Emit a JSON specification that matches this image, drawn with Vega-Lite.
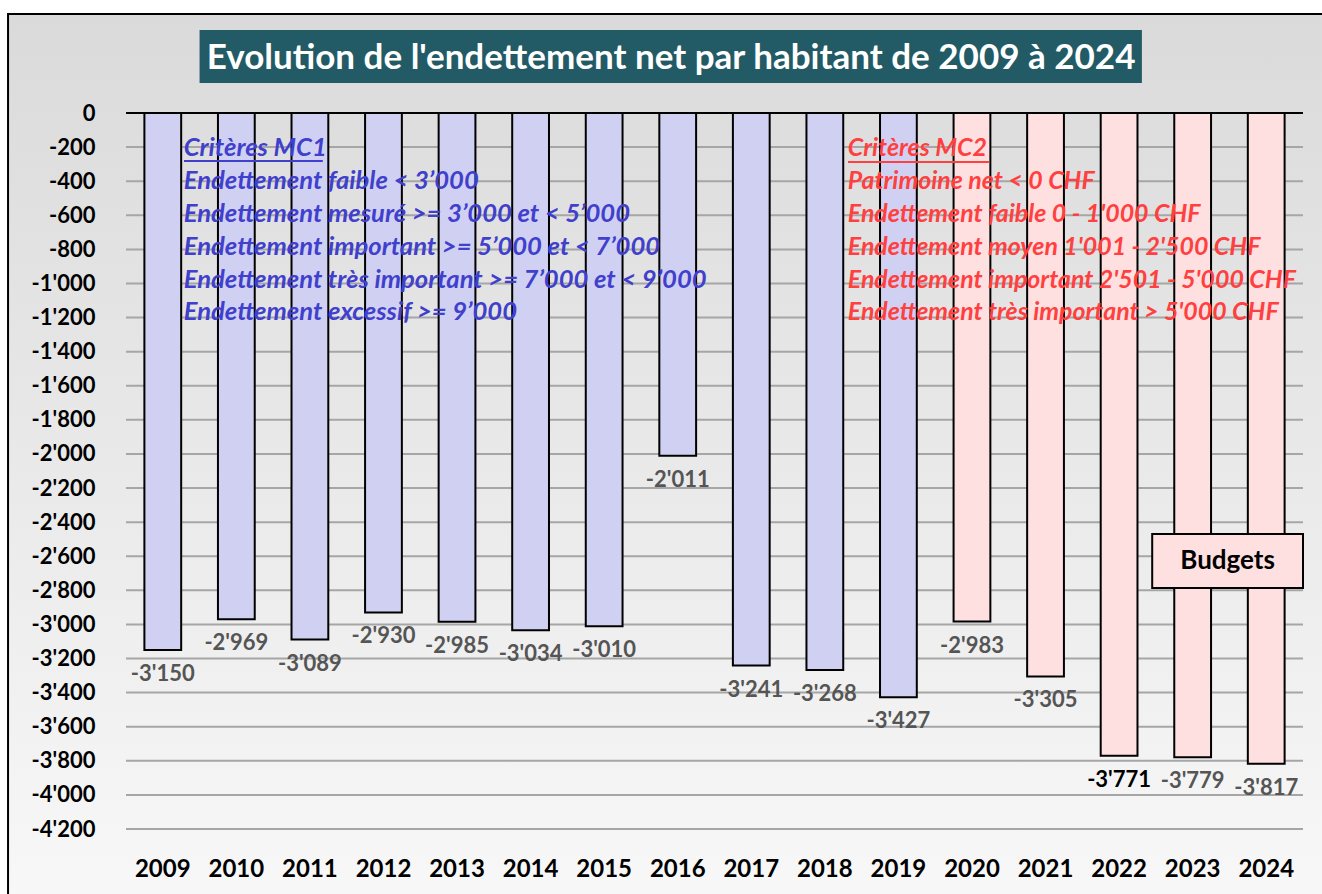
{
  "$schema": "https://vega.github.io/schema/vega-lite/v6.json",
  "width": 1177,
  "height": 716,
  "autosize": {"type": "none"},
  "padding": {"left": 126, "top": 113, "right": 19, "bottom": 65},
  "background": "#ffffff",
  "config": {
    "view": {"stroke": null},
    "font": "Lato",
    "locale": {"number": {"decimal": ".", "thousands": "'", "grouping": [3], "currency": ["", ""], "minus": "-"}}
  },
  "datasets": {
    "bars": [
      {"year": "2009", "value": -3150, "critere": "MC1"},
      {"year": "2010", "value": -2969, "critere": "MC1"},
      {"year": "2011", "value": -3089, "critere": "MC1"},
      {"year": "2012", "value": -2930, "critere": "MC1"},
      {"year": "2013", "value": -2985, "critere": "MC1"},
      {"year": "2014", "value": -3034, "critere": "MC1"},
      {"year": "2015", "value": -3010, "critere": "MC1"},
      {"year": "2016", "value": -2011, "critere": "MC1"},
      {"year": "2017", "value": -3241, "critere": "MC1"},
      {"year": "2018", "value": -3268, "critere": "MC1"},
      {"year": "2019", "value": -3427, "critere": "MC1"},
      {"year": "2020", "value": -2983, "critere": "MC2"},
      {"year": "2021", "value": -3305, "critere": "MC2"},
      {"year": "2022", "value": -3771, "critere": "MC2"},
      {"year": "2023", "value": -3779, "critere": "MC2"},
      {"year": "2024", "value": -3817, "critere": "MC2"}
    ],
    "grid": [
      {"v": -200}, {"v": -400}, {"v": -600}, {"v": -800}, {"v": -1000},
      {"v": -1200}, {"v": -1400}, {"v": -1600}, {"v": -1800}, {"v": -2000},
      {"v": -2200}, {"v": -2400}, {"v": -2600}, {"v": -2800}, {"v": -3000},
      {"v": -3200}, {"v": -3400}, {"v": -3600}, {"v": -3800}, {"v": -4000},
      {"v": -4200}
    ],
    "one": [{"k": 1}]
  },
  "encoding": {
    "x": {
      "field": "year", "type": "nominal",
      "scale": {"paddingInner": 0.5, "paddingOuter": 0.25},
      "axis": {
        "title": null, "labelAngle": 0, "domain": false, "ticks": false, "grid": false,
        "labelFont": "Lato", "labelFontWeight": "bold", "labelFontSize": 24, "labelColor": "#000000",
        "labelPadding": 28, "zindex": 1
      }
    },
    "y": {
      "type": "quantitative",
      "scale": {"domain": [-4200, 0], "nice": false, "zero": false},
      "axis": {
        "title": null, "domain": false, "ticks": false, "grid": false, "tickCount": 21,
        "format": ",d", "labelFont": "Lato", "labelFontWeight": "bold", "labelFontSize": 22,
        "labelColor": "#000000", "labelPadding": 31, "zindex": 1
      }
    }
  },
  "layer": [
    {
      "data": {"name": "one"},
      "mark": {
        "type": "rect", "stroke": "#000000", "strokeWidth": 2,
        "fill": {"gradient": "linear", "x1": 0, "y1": 0, "x2": 0, "y2": 1,
          "stops": [{"offset": 0, "color": "#dadada"}, {"offset": 0.5, "color": "#e9e9e9"}, {"offset": 1, "color": "#f8f8f8"}]}
      },
      "encoding": {
        "x": {"datum": "2009", "bandPosition": -3.707},
        "x2": {"datum": "2024", "bandPosition": 2.5},
        "y": {"datum": 581},
        "y2": {"datum": -4650}
      }
    },
    {
      "data": {"name": "one"},
      "mark": {"type": "rect", "fill": "#225a66"},
      "encoding": {
        "x": {"datum": "2010", "bandPosition": -0.5},
        "x2": {"datum": "2022", "bandPosition": 1.12},
        "y": {"datum": 487},
        "y2": {"datum": 176}
      }
    },
    {
      "data": {"name": "one"},
      "mark": {"type": "text", "text": "Evolution de l'endettement net par habitant de 2009 à 2024",
        "font": "Lato", "fontWeight": "bold", "fontSize": 35, "fill": "#ffffff", "align": "center", "baseline": "alphabetic"},
      "encoding": {
        "x": {"datum": "2016", "bandPosition": 0.32},
        "y": {"datum": 256}
      }
    },
    {
      "data": {"name": "grid"},
      "mark": {"type": "rule", "stroke": "#a6a6a6", "strokeWidth": 2},
      "encoding": {"y": {"field": "v", "type": "quantitative"}, "x": null}
    },
    {
      "data": {"name": "bars"},
      "mark": {"type": "bar", "stroke": "#000000", "strokeWidth": 2},
      "encoding": {
        "y": {"field": "value", "type": "quantitative"},
        "color": {"field": "critere", "type": "nominal", "legend": null,
          "scale": {"domain": ["MC1", "MC2"], "range": ["#d0d0f2", "#ffe0e0"]}}
      }
    },
    {
      "data": {"name": "one"},
      "mark": {"type": "rule", "stroke": "#000000", "strokeWidth": 2},
      "encoding": {"y": {"datum": 0}, "x": null}
    },
    {
      "data": {"name": "bars"},
      "mark": {"type": "text", "font": "Lato", "fontSize": 22, "fontWeight": "bold", "baseline": "middle", "align": "center", "dy": 24},
      "encoding": {
        "y": {"field": "value", "type": "quantitative"},
        "text": {"field": "value", "type": "quantitative", "format": ",d"},
        "fill": {"condition": {"test": "datum.year === '2022'", "value": "#000000"}, "value": "#555555"}
      }
    },
    {
      "data": {"name": "one"},
      "mark": {"type": "text", "font": "Lato", "fontWeight": "bold", "fontStyle": "italic", "fontSize": 25.6,
        "fill": "#4040cc", "align": "left", "baseline": "alphabetic", "lineHeight": 32.8, "dx": 21,
        "text": ["Critères MC1", "Endettement faible < 3’000", "Endettement mesuré >= 3’000 et < 5’000", "Endettement important >= 5’000 et < 7’000", "Endettement très important >= 7’000 et < 9’000", "Endettement excessif >= 9’000"]},
      "encoding": {"x": {"datum": "2009"}, "y": {"datum": -255}}
    },
    {
      "data": {"name": "one"},
      "mark": {"type": "text", "font": "Lato", "fontWeight": "bold", "fontStyle": "italic", "fontSize": 24.9,
        "fill": "#ff4040", "align": "left", "baseline": "alphabetic", "lineHeight": 32.8, "dx": 23,
        "text": ["Critères MC2", "Patrimoine net < 0 CHF", "Endettement faible 0 - 1'000 CHF", "Endettement moyen 1'001 - 2'500 CHF", "Endettement important 2'501 - 5'000 CHF", "Endettement très important > 5'000 CHF"]},
      "encoding": {"x": {"datum": "2018"}, "y": {"datum": -255}}
    },
    {
      "data": {"name": "one"},
      "mark": {"type": "rule", "stroke": "#4040cc", "strokeWidth": 2},
      "encoding": {
        "x": {"datum": "2009", "bandPosition": 1.076},
        "x2": {"datum": "2009", "bandPosition": 4.85},
        "y": {"datum": -282}
      }
    },
    {
      "data": {"name": "one"},
      "mark": {"type": "rule", "stroke": "#ff4040", "strokeWidth": 2},
      "encoding": {
        "x": {"datum": "2018", "bandPosition": 1.13},
        "x2": {"datum": "2018", "bandPosition": 4.96},
        "y": {"datum": -287}
      }
    },
    {
      "data": {"name": "one"},
      "mark": {"type": "rect", "fill": "#ffe0e0", "stroke": "#000000", "strokeWidth": 2},
      "encoding": {
        "x": {"datum": "2023", "bandPosition": -0.6},
        "x2": {"datum": "2024", "bandPosition": 1.5},
        "y": {"datum": -2469},
        "y2": {"datum": -2786}
      }
    },
    {
      "data": {"name": "one"},
      "mark": {"type": "text", "text": "Budgets", "font": "Lato", "fontWeight": "bold", "fontSize": 26,
        "fill": "#000000", "align": "center", "baseline": "middle"},
      "encoding": {
        "x": {"datum": "2023", "bandPosition": 1.45},
        "y": {"datum": -2628}
      }
    }
  ]
}
